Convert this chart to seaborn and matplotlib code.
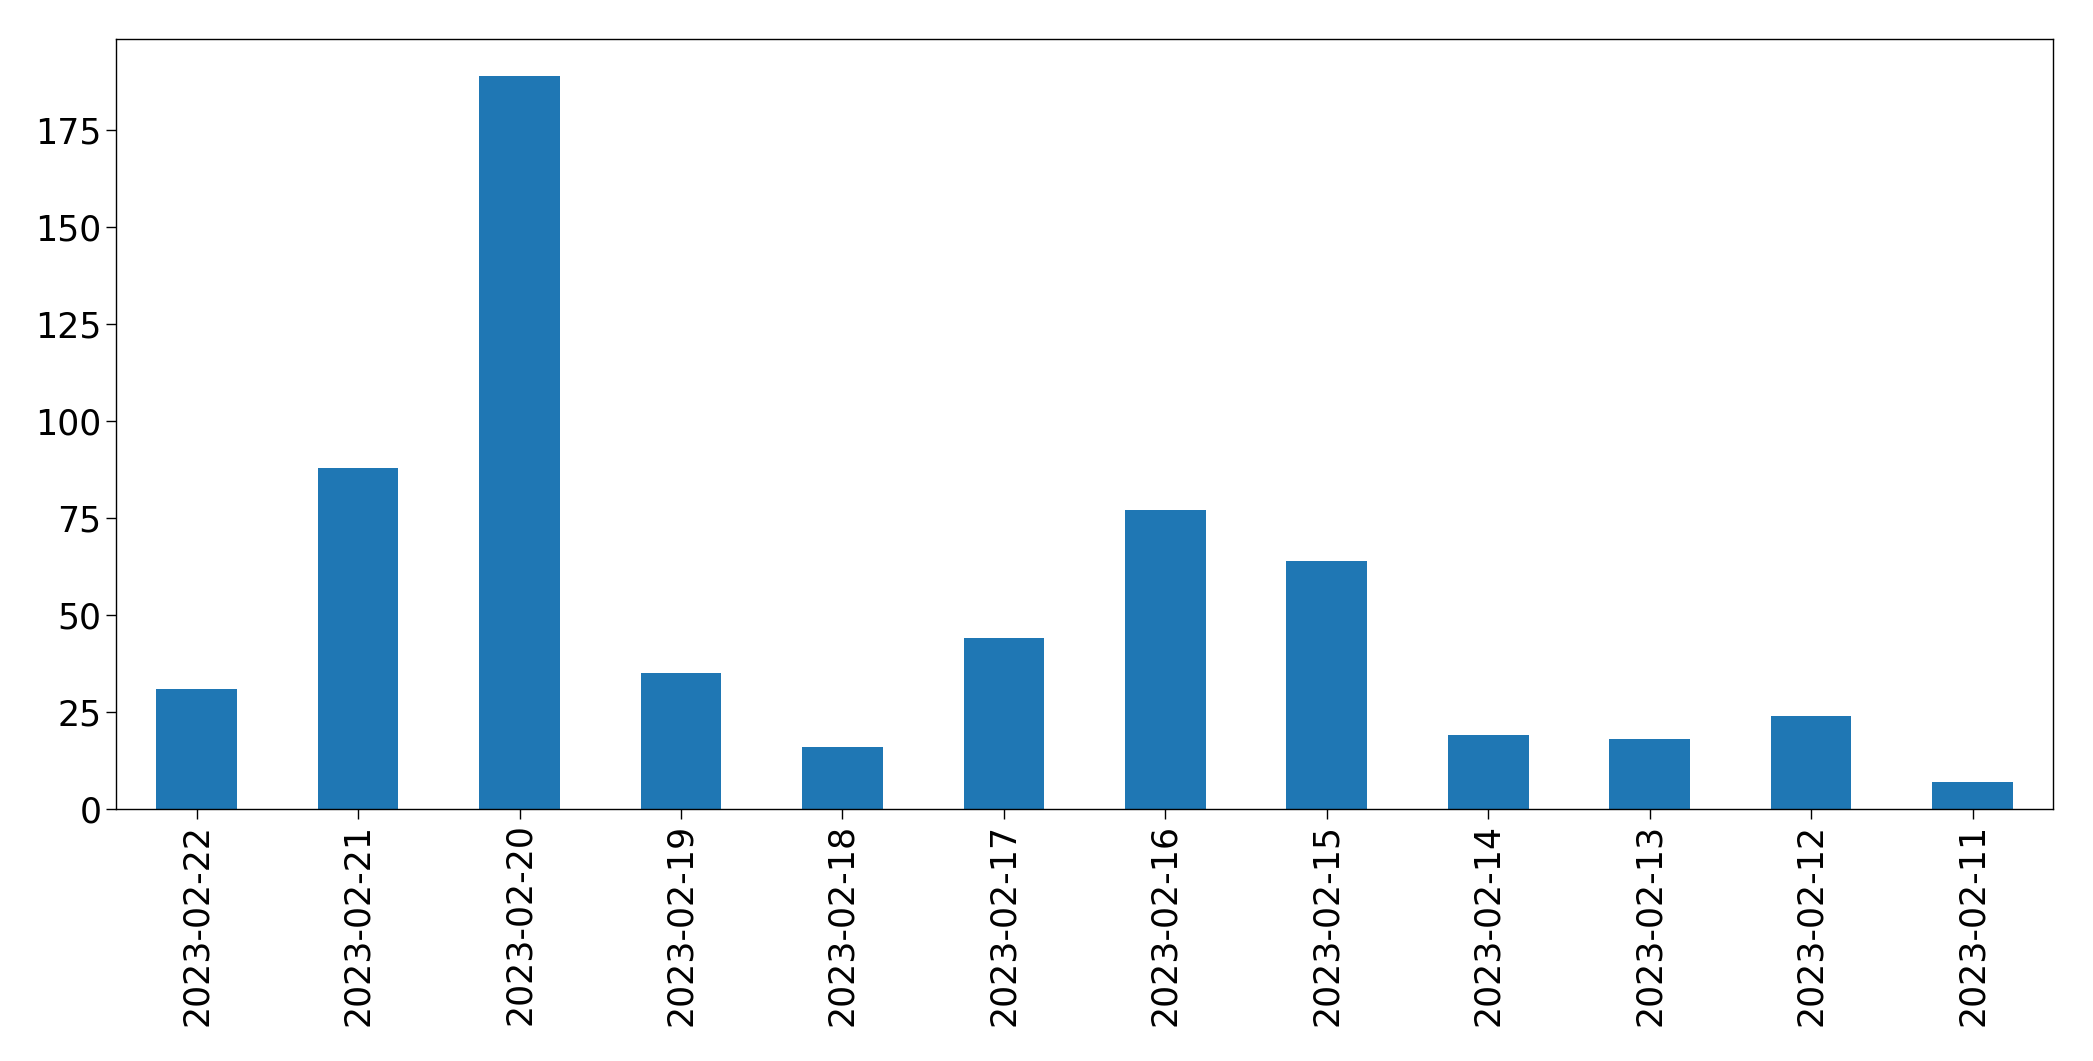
import matplotlib
matplotlib.use("Agg")
import matplotlib.pyplot as plt
import seaborn as sns
import pandas as pd

dates = ["2023-02-22", "2023-02-21", "2023-02-20", "2023-02-19", "2023-02-18", "2023-02-17",
         "2023-02-16", "2023-02-15", "2023-02-14", "2023-02-13", "2023-02-12", "2023-02-11"]
counts = [31, 88, 189, 35, 16, 44, 77, 64, 19, 18, 24, 7]

df = pd.DataFrame({"date": dates, "count": counts})

sns.set_style("ticks")
plt.rcParams['font.family'] = ['DejaVu Sans']
plt.rcParams['text.color'] = 'black'
plt.rcParams['xtick.color'] = 'black'
plt.rcParams['ytick.color'] = 'black'
plt.rcParams['axes.edgecolor'] = 'black'

fig = plt.figure(figsize=(20.93, 10.61), dpi=100)
ax = fig.add_axes([0.0554, 0.2375, 0.9256, 0.7258])
sns.barplot(data=df, x="date", y="count", color="#1f77b4", saturation=1, width=0.5,
            linewidth=0, ax=ax)
ax.set_xlim(-0.5, len(dates) - 0.5)
ax.set_ylim(0, max(counts) * 1.05)
ax.set_yticks([0, 25, 50, 75, 100, 125, 150, 175])
ax.set_xlabel("")
ax.set_ylabel("")
ax.tick_params(axis="both", labelsize=25, length=7, width=1.0, colors="black")
ax.tick_params(axis="x", rotation=90)
for s in ax.spines.values():
    s.set_visible(True)
    s.set_linewidth(1.0)
    s.set_color("black")
fig.savefig("out.png", dpi=100)
